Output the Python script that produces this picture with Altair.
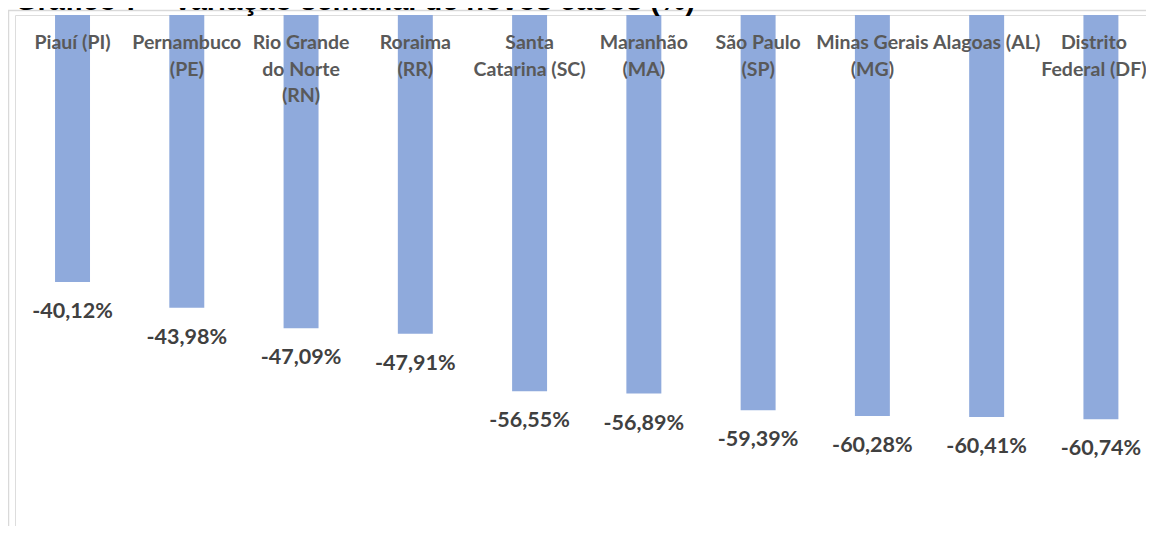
import altair as alt
import pandas as pd

# ---- data ----
states = ["Piauí (PI)", "Pernambuco (PE)", "Rio Grande do Norte (RN)", "Roraima (RR)",
          "Santa Catarina (SC)", "Maranhão (MA)", "São Paulo (SP)", "Minas Gerais (MG)",
          "Alagoas (AL)", "Distrito Federal (DF)"]
wrapped_labels = ["Piauí (PI)", "Pernambuco\n(PE)", "Rio Grande\ndo Norte\n(RN)", "Roraima\n(RR)",
                  "Santa\nCatarina (SC)", "Maranhão\n(MA)", "São Paulo\n(SP)", "Minas Gerais\n(MG)",
                  "Alagoas (AL)", "Distrito\nFederal (DF)"]
values = [-40.12, -43.98, -47.09, -47.91, -56.55, -56.89, -59.39, -60.28, -60.41, -60.74]
title_text = "Gráfico 7 – Variação semanal de novos casos (%)"

df = pd.DataFrame({
    "state": states,
    "wrapped": wrapped_labels,
    "value": values,
    "label": [f"{v:.2f}".replace(".", ",") + "%" for v in values],
})
one = pd.DataFrame({"k": [0]})
last_state = states[-1]

W, H = 1131, 511
FONT = "Lato"

xscale = alt.Scale(paddingInner=0.694, paddingOuter=0.296, align=0.592)
yscale = alt.Scale(domain=[-76.8, 0], nice=False)

base = alt.Chart(df)

bars = base.mark_bar(color="#8FAADC").encode(
    x=alt.X("state:N", sort=states, scale=xscale,
            axis=alt.Axis(orient="top", labels=False, ticks=False, title=None,
                          grid=False, domainColor="#D9D9D9", domainWidth=1)),
    y=alt.Y("value:Q", scale=yscale, axis=None),
)

values_text = base.mark_text(
    font=FONT, fontWeight="bold", fontSize=21.5, color="#404040",
    baseline="middle", align="center", dy=30,
).encode(
    x=alt.X("state:N", sort=states, axis=None),
    y=alt.Y("value:Q", axis=None),
    text="label:N",
)

cat_style = dict(font=FONT, fontWeight="bold", fontSize=19.5, color="#595959",
                 baseline="alphabetic", align="center", lineBreak="\n", lineHeight=26.5)
cat_enc = dict(x=alt.X("state:N", sort=states, axis=None), y=alt.value(34), text="wrapped:N")

cat_text = base.mark_text(**cat_style).encode(**cat_enc).transform_filter(
    alt.datum.state != last_state
)
# the right-most label is nudged left so that it stays inside the page
cat_text_last = base.mark_text(dx=-7, **cat_style).encode(**cat_enc).transform_filter(
    alt.datum.state == last_state
)

frame_top = alt.Chart(one).mark_rule(color="#D9D9D9", strokeWidth=1.5).encode(
    x=alt.value(-7), x2=alt.value(W + 1), y=alt.value(-4.5)
)
frame_left = alt.Chart(one).mark_rule(color="#D9D9D9", strokeWidth=1.5).encode(
    x=alt.value(-6.5), y=alt.value(-4.5), y2=alt.value(H + 20)
)

title = alt.Chart(one).mark_text(
    text=title_text, font="Liberation Sans", fontWeight="bold", fontSize=29,
    color="#000000", align="left", baseline="alphabetic",
).encode(x=alt.value(0), y=alt.value(-5.5))

chart = alt.layer(frame_top, frame_left, bars, cat_text, cat_text_last, values_text, title).properties(
    width=W, height=H,
    autosize=alt.AutoSizeParams(type="none"),
    padding={"left": 7, "top": 7, "right": 0, "bottom": 0},
).configure_view(strokeWidth=0, stroke="transparent").configure(background="white")

chart.save("out.html", embed_options={"renderer": "svg", "actions": False})
